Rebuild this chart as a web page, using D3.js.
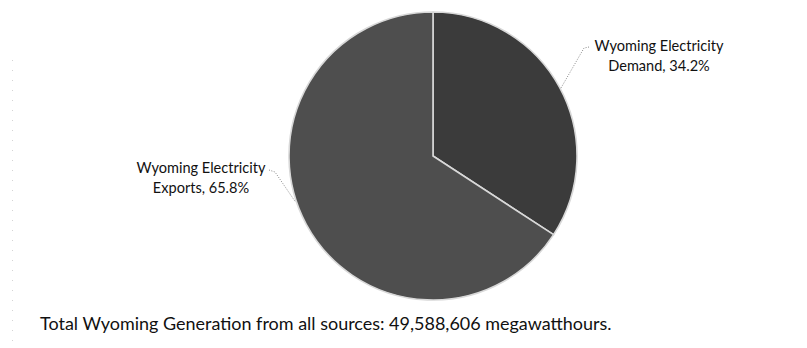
<!DOCTYPE html>
<html>
<head>
<meta charset="utf-8">
<script src="https://cdn.jsdelivr.net/npm/d3@7"></script>
<style>
  html, body { margin: 0; padding: 0; background: #ffffff; }
  svg { display: block; }
  text { font-family: Lato, "Open Sans", "Liberation Sans", sans-serif; fill: #111; }
</style>
</head>
<body>
<svg id="chart" width="807" height="348"></svg>
<script>
// ---- data ----
const categories = ["Wyoming Electricity Demand", "Wyoming Electricity Exports"];
const values = [34.2, 65.8];
const footerText = "Total Wyoming Generation from all sources: 49,588,606 megawatthours.";

// ---- layout ----
const W = 807, H = 348;
const cx = 433, cy = 156, R = 144;
const sliceColors = ["#3b3b3b", "#4e4e4e"];

const svg = d3.select("#chart");

// faint dotted scan border at left
svg.append("line")
  .attr("x1", 12.5).attr("x2", 12.5).attr("y1", 60).attr("y2", H)
  .attr("stroke", "#d4d4d4").attr("stroke-width", 1)
  .attr("stroke-dasharray", "1,9");

const pie = d3.pie().sort(null).value(d => d)(values);
const arc = d3.arc().innerRadius(0).outerRadius(R);

const g = svg.append("g").attr("transform", `translate(${cx},${cy})`);
g.selectAll("path.slice")
  .data(pie)
  .join("path")
  .attr("class", "slice")
  .attr("d", arc)
  .attr("fill", (d, i) => sliceColors[i])
  .attr("stroke", "#d8d8d8")
  .attr("stroke-width", 1.6);

// label layout (label centre x, first baseline, leader path)
const labelLayout = [
  { x: 659, y: 51, ang: 62, lx: 589, ly: 47, kx: 584, ky: 48 },
  { x: 201, y: 173, ang: 251.5, lx: 269, ly: 170, kx: 275, ky: 172 }
];

function splitLabel(cat, v) {
  const words = cat.split(" ");
  return [words.slice(0, 2).join(" "), words.slice(2).join(" ") + ", " + v.toFixed(1) + "%"];
}

pie.forEach((d, i) => {
  const L = labelLayout[i];
  const a = L.ang * Math.PI / 180;
  const px = cx + (R + 1) * Math.sin(a), py = cy - (R + 1) * Math.cos(a);
  svg.append("path")
    .attr("d", d3.line()([[L.lx, L.ly], [L.kx, L.ky], [px, py]]))
    .attr("fill", "none")
    .attr("stroke", "#8a8a8a")
    .attr("stroke-width", 1)
    .attr("stroke-dasharray", "1,1.5");
  const lines = splitLabel(categories[i], d.data);
  const t = svg.append("text")
    .attr("text-anchor", "middle")
    .style("font-size", "13px");
  lines.forEach((s, j) => {
    t.append("tspan").attr("x", L.x).attr("y", L.y + j * 20).text(s);
  });
});

// fit label font size: "Wyoming Electricity" ~129px wide
const probe = svg.append("text").style("font-size", "13px").text("Wyoming Electricity");
const pw = probe.node().getComputedTextLength();
probe.remove();
const labelSize = 13 * 129 / pw;
svg.selectAll("text").style("font-size", labelSize + "px");

// footer
const foot = svg.append("text")
  .attr("x", 40).attr("y", 330)
  .style("font-size", "16px")
  .text(footerText);
const fw = foot.node().getComputedTextLength();
foot.style("font-size", (16 * 572 / fw) + "px");
</script>
</body>
</html>
